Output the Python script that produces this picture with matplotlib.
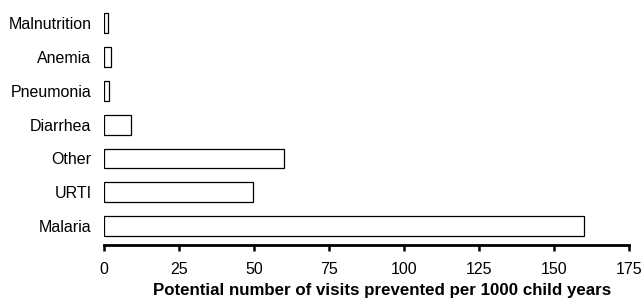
import matplotlib
matplotlib.use("Agg")
import matplotlib.pyplot as plt

matplotlib.rcParams['font.family'] = ['Liberation Sans', 'DejaVu Sans']

categories = ["Malaria", "URTI", "Other", "Diarrhea", "Pneumonia", "Anemia", "Malnutrition"]
visits_prevented = [160, 49.5, 60, 9, 1.5, 2.2, 1.2]
x_ticks = [0, 25, 50, 75, 100, 125, 150, 175]

fig = plt.figure(figsize=(6.44, 3.01), dpi=100)
ax = fig.add_axes([104 / 644, 56 / 301, 525 / 644, 242 / 301])

ax.barh(range(len(categories)), visits_prevented, height=0.59,
        color="white", edgecolor="black", linewidth=0.9)

ax.set_yticks(range(len(categories)))
ax.set_yticklabels(categories, fontsize=11.5)
ax.tick_params(axis="y", length=0, pad=9)

ax.set_xlim(0, 175)
ax.set_ylim(-0.56, 6.6)
ax.set_xticks(x_ticks)
ax.set_xticklabels([str(t) for t in x_ticks], fontsize=11.5)
ax.tick_params(axis="x", length=4, width=1.8, pad=8)

for side in ["top", "right", "left"]:
    ax.spines[side].set_visible(False)
ax.spines["bottom"].set_linewidth(2)

ax.set_xlabel("Potential number of visits prevented per 1000 child years",
              fontsize=12.2, fontweight="bold")
ax.xaxis.set_label_coords(0.53, -0.155)

fig.savefig("out.png", dpi=100)
